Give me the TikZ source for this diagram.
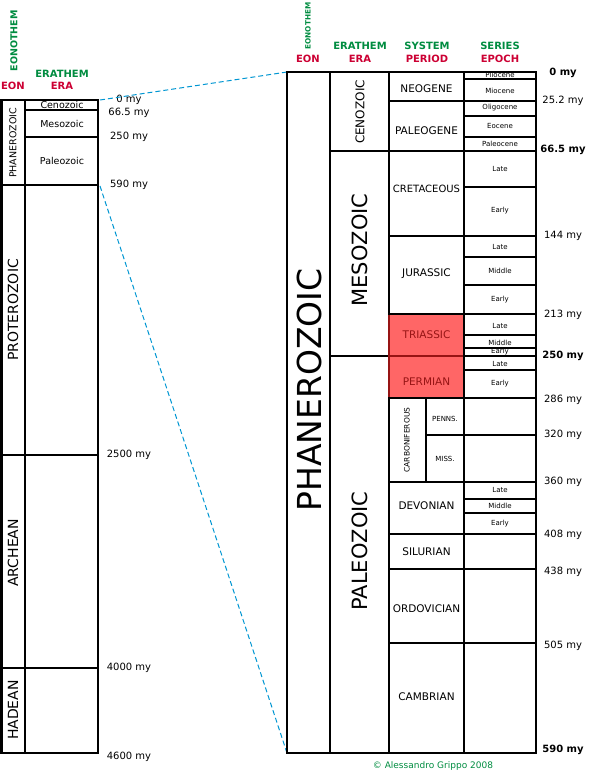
\documentclass[tikz,border=0pt]{standalone}
\usepackage{fontspec}
\setmainfont{DejaVu Sans}
\usepackage{xcolor}
\usepackage{tikz}
\definecolor{hdrgreen}{RGB}{0,140,64}
\definecolor{hdrred}{RGB}{204,0,51}
\definecolor{zoomblue}{RGB}{0,150,210}
\definecolor{redfill}{RGB}{255,102,102}
\definecolor{redline}{RGB}{150,20,20}
\tikzset{every node/.append style={inner sep=0pt, font=\fontsize{10}{12}\selectfont}}
\tikzset{
  hdr/.style={font=\fontsize{10}{12}\selectfont\bfseries},
  agebold/.style={font=\fontsize{10}{12}\selectfont\bfseries},
  periodname/.style={font=\fontsize{10.5}{12}\selectfont},
  epochname/.style={font=\fontsize{7}{8}\selectfont},
  zoomline/.style={zoomblue, line width=1pt, dash pattern=on 5pt off 3pt}
}

\begin{document}
\begin{tikzpicture}[x=1pt, y=-1pt, line width=2.3pt]
    \useasboundingbox (0,0) rectangle (593,772);
    % small overview column
    \node[hdrgreen, hdr, font=\fontsize{9.5}{11}\selectfont\bfseries, rotate=90] (eonothemL) at (14,41) {EONOTHEM};
    \node[hdrred, hdr] (eonL) at (13,86) {EON};
    \node[hdrgreen, hdr] (erathemL) at (62,74) {ERATHEM};
    \node[hdrred, hdr] (eraL) at (62,86) {ERA};
    \node[rotate=90, font=\fontsize{9.5}{11}\selectfont] (phanL) at (13,143) {PHANEROZOIC};
    \node[rotate=90, font=\fontsize{14}{16}\selectfont] (proterL) at (13,310) {PROTEROZOIC};
    \node[rotate=90, font=\fontsize{14}{16}\selectfont] (archL) at (13,553) {ARCHEAN};
    \node[rotate=90, font=\fontsize{14}{16}\selectfont] (hadL) at (13,710) {HADEAN};
    \node[font=\fontsize{9.5}{11}\selectfont] (cenoL) at (62,105) {Cenozoic};
    \node[font=\fontsize{9.5}{11}\selectfont] (mesoL) at (62,124) {Mesozoic};
    \node[font=\fontsize{9.5}{11}\selectfont] (paleoL) at (62,161) {Paleozoic};
    \draw (1.5,100) rectangle (98,753);
    \draw (25,100) -- (25,753);
    \draw (25,110) -- (98,110) (25,137) -- (98,137);
    \draw (1.5,185) -- (98,185) (1.5,455) -- (98,455) (1.5,668) -- (98,668);
    \node (zeroL) at (129,100) {0 my};
    \node (cenoEndL) at (129,113) {66.5 my};
    \node (mesoEndL) at (129,137) {250 my};
    \node (phanEndL) at (129,185) {590 my};
    \node (proterEndL) at (129,455) {2500 my};
    \node (archEndL) at (129,668) {4000 my};
    \node (hadEndL) at (129,757) {4600 my};

    % zoom lines
    \coordinate (leftTop) at (100,100);
    \coordinate (leftBot) at (100,186);
    \coordinate (rightTop) at (287,72);
    \coordinate (rightBot) at (287,753);
    \draw[zoomline] (leftTop) -- (rightTop);
    \draw[zoomline] (leftBot) -- (rightBot);

    % headers of the large table
    \node[hdrgreen, font=\fontsize{7.3}{9}\selectfont\bfseries, rotate=90] (eonothem) at (308,26) {EONOTHEM};
    \node[hdrred, hdr] (eon) at (308,59) {EON};
    \node[hdrgreen, hdr] (erathem) at (360,46) {ERATHEM};
    \node[hdrred, hdr] (era) at (360,59) {ERA};
    \node[hdrgreen, hdr] (system) at (427,46) {SYSTEM};
    \node[hdrred, hdr] (period) at (427,59) {PERIOD};
    \node[hdrgreen, hdr] (series) at (500,46) {SERIES};
    \node[hdrred, hdr] (epoch) at (500,59) {EPOCH};

    % Triassic and Permian
    \fill[redfill] (389,314) rectangle (464,398);

    \node[rotate=90, font=\fontsize{33}{36}\selectfont] (phan) at (309,390) {PHANEROZOIC};
    \node[rotate=90, font=\fontsize{12}{14}\selectfont] (ceno) at (360,112) {CENOZOIC};
    \node[rotate=90, font=\fontsize{21}{24}\selectfont] (meso) at (360,250) {MESOZOIC};
    \node[rotate=90, font=\fontsize{21}{24}\selectfont] (paleo) at (360,551) {PALEOZOIC};

    \node[periodname] (neogene) at (426.5,89) {NEOGENE};
    \node[periodname] (paleogene) at (426.5,131) {PALEOGENE};
    \node[periodname, font=\fontsize{10}{12}\selectfont] (cretaceous) at (426.5,189) {CRETACEOUS};
    \node[periodname] (jurassic) at (426.5,274) {JURASSIC};
    \node[periodname, redline] (triassic) at (426.5,335) {TRIASSIC};
    \node[periodname, redline] (permian) at (426.5,382) {PERMIAN};
    \node[rotate=90, font=\fontsize{7.5}{9}\selectfont] (carbon) at (407,440) {CARBONIFEROUS};
    \node[epochname] (penns) at (445,419) {PENNS.};
    \node[epochname] (miss) at (445,459) {MISS.};
    \node[periodname] (devonian) at (426.5,506) {DEVONIAN};
    \node[periodname] (silurian) at (426.5,552) {SILURIAN};
    \node[periodname] (ordovician) at (426.5,609) {ORDOVICIAN};
    \node[periodname] (cambrian) at (426.5,697) {CAMBRIAN};

    \node[epochname] (pliocene) at (500,75) {Pliocene};
    \node[epochname] (miocene) at (500,91) {Miocene};
    \node[epochname] (oligocene) at (500,108) {Oligocene};
    \node[epochname] (eocene) at (500,126) {Eocene};
    \node[epochname] (paleocene) at (500,144) {Paleocene};
    \node[epochname] (kLate) at (500,169) {Late};
    \node[epochname] (kEarly) at (500,211) {Early};
    \node[epochname] (jLate) at (500,247) {Late};
    \node[epochname] (jMiddle) at (500,271) {Middle};
    \node[epochname] (jEarly) at (500,300) {Early};
    \node[epochname] (trLate) at (500,326) {Late};
    \node[epochname] (trMiddle) at (500,342.5) {Middle};
    \node[epochname] (trEarly) at (500,352) {Early};
    \node[epochname] (pLate) at (500,364) {Late};
    \node[epochname] (pEarly) at (500,384) {Early};
    \node[epochname] (dLate) at (500,490) {Late};
    \node[epochname] (dMiddle) at (500,506) {Middle};
    \node[epochname] (dEarly) at (500,524) {Early};

    % grid of the large table
    \draw (287,72) rectangle (536,753);
    \draw (330,72) -- (330,753) (389,72) -- (389,753) (464,72) -- (464,753);
    \draw (330,151) -- (536,151) (330,356) -- (536,356);
    \draw (389,101) -- (536,101) (389,236) -- (536,236) (389,314) -- (536,314)
          (389,398) -- (536,398) (389,482) -- (536,482) (389,534) -- (536,534)
          (389,569) -- (536,569) (389,643) -- (536,643);
    \draw (464,79) -- (536,79) (464,116) -- (536,116) (464,137) -- (536,137)
          (464,187) -- (536,187) (464,257) -- (536,257) (464,285) -- (536,285)
          (464,335) -- (536,335) (464,348) -- (536,348) (464,370) -- (536,370)
          (464,499) -- (536,499) (464,513) -- (536,513);
    \draw (426,398) -- (426,482) (426,435) -- (536,435);
    \draw[redline] (390,356) -- (463,356) (389,315) -- (389,397);

    % ages
    \node[agebold] (zeroR) at (563,73) {0 my};
    \node (neoEnd) at (563,101) {25.2 my};
    \node[agebold] (cenoEnd) at (563,150) {66.5 my};
    \node (jurTop) at (563,236) {144 my};
    \node (triTop) at (563,315) {213 my};
    \node[agebold] (mesoEnd) at (563,356) {250 my};
    \node (permEnd) at (563,400) {286 my};
    \node (pennEnd) at (563,435) {320 my};
    \node (carbEnd) at (563,482) {360 my};
    \node (devEnd) at (563,535) {408 my};
    \node (silEnd) at (563,572) {438 my};
    \node (ordEnd) at (563,646) {505 my};
    \node[agebold] (cambEnd) at (563,750) {590 my};

    \node[hdrgreen, font=\fontsize{9}{11}\selectfont] (credit) at (433,766) {© Alessandro Grippo 2008};
\end{tikzpicture}
\end{document}
